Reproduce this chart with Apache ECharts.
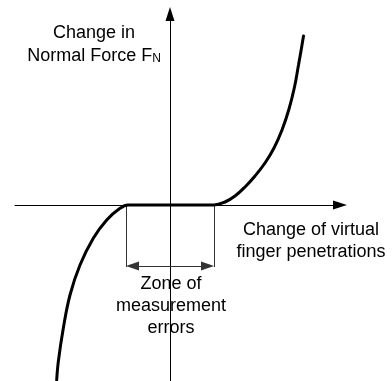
<!DOCTYPE html>
<html>
<head>
<meta charset="utf-8">
<script src="https://cdn.jsdelivr.net/npm/echarts@6/dist/echarts.min.js"></script>
<style>
html,body{margin:0;padding:0;background:#fff;}
#c{width:392px;height:381px;}
</style>
</head>
<body>
<div id="c"></div>
<script>
// Data (arbitrary units: origin where the axes cross)
const leftCurveX  = [-113.3, -111.7, -106.7, -100, -90, -76.7, -63.3, -50, -42];
const leftCurveY  = [-175, -156.7, -123.3, -90, -60, -33.3, -15, -3.3, 0];
const flatX       = [-20, 0, 20, 44];
const flatY       = [0, 0, 0, 0];
const rightCurveX = [55, 65, 75, 85, 95, 104, 112, 119, 124.5, 128.5, 131.5, 133.5];
const rightCurveY = [3, 9, 18, 29, 42, 57, 75, 96, 118, 140, 157, 169];
const zoneBounds  = [-44, 44];
const zoneArrowY  = -61;
const zoneLineBottom = -62;

const curve = [];
leftCurveX.forEach((x, i) => curve.push([x, leftCurveY[i]]));
flatX.forEach((x, i) => curve.push([x, flatY[i]]));
rightCurveX.forEach((x, i) => curve.push([x, rightCurveY[i]]));

const arrowHalf = 6.5;
const font = '18px "Liberation Sans", Arial, sans-serif';

const chart = echarts.init(document.getElementById('c'), null, {renderer: 'canvas'});
chart.setOption({
  animation: false,
  backgroundColor: '#fff',
  grid: {left: 15, right: 52, top: 14, bottom: 0, containLabel: false},
  xAxis: {
    type: 'value', min: -155, max: 170,
    axisLine: {show: true, onZero: true, symbol: ['none', 'triangle'], symbolSize: [9, 14],
      lineStyle: {color: '#000', width: 1}},
    axisTick: {show: false}, axisLabel: {show: false}, splitLine: {show: false}
  },
  yAxis: {
    type: 'value', min: -176, max: 191,
    axisLine: {show: true, onZero: true, symbol: ['none', 'triangle'], symbolSize: [9, 14],
      lineStyle: {color: '#000', width: 1}},
    axisTick: {show: false}, axisLabel: {show: false}, splitLine: {show: false}
  },
  series: [
    {
      type: 'line',
      data: curve,
      symbol: 'none',
      smooth: 0.4,
      lineStyle: {color: '#000', width: 3, cap: 'round'},
      z: 5,
      silent: true
    },
    {
      type: 'scatter',
      data: [],
      silent: true,
      markLine: {
        silent: true,
        symbol: 'none',
        label: {show: false},
        emphasis: {disabled: true},
        lineStyle: {type: 'solid', color: '#333', width: 1},
        data: [
          [{coord: [zoneBounds[0], 0]}, {coord: [zoneBounds[0], zoneLineBottom]}],
          [{coord: [zoneBounds[1], 0]}, {coord: [zoneBounds[1], zoneLineBottom]}],
          [{coord: [zoneBounds[0] + arrowHalf, zoneArrowY], symbol: 'triangle', symbolSize: [9, 13]},
           {coord: [zoneBounds[1] - arrowHalf, zoneArrowY], symbol: 'triangle', symbolSize: [9, 13]}]
        ]
      }
    }
  ],
  graphic: [
    {type: 'text', x: 94, y: 24, silent: true,
      style: {text: 'Change in', font: font, fill: '#000', textAlign: 'center', textVerticalAlign: 'top'}},
    {type: 'text', x: 94, y: 47, silent: true,
      style: {text: '{a|Normal Force F}{s|N}', textAlign: 'center', textVerticalAlign: 'top', fill: '#000',
        rich: {a: {font: font, fill: '#000'}, s: {font: '12px "Liberation Sans", Arial, sans-serif', fill: '#000', verticalAlign: 'bottom', padding: [6, 0, 0, 0]}}}},
    {type: 'text', x: 311, y: 219, silent: true,
      style: {text: 'Change of virtual\nfinger penetrations', font: font, fill: '#000', textAlign: 'center', textVerticalAlign: 'top', lineHeight: 22}},
    {type: 'text', x: 171, y: 273, silent: true,
      style: {text: 'Zone of\nmeasurement\nerrors', font: font, fill: '#000', textAlign: 'center', textVerticalAlign: 'top', lineHeight: 22}}
  ]
});
</script>
</body>
</html>
